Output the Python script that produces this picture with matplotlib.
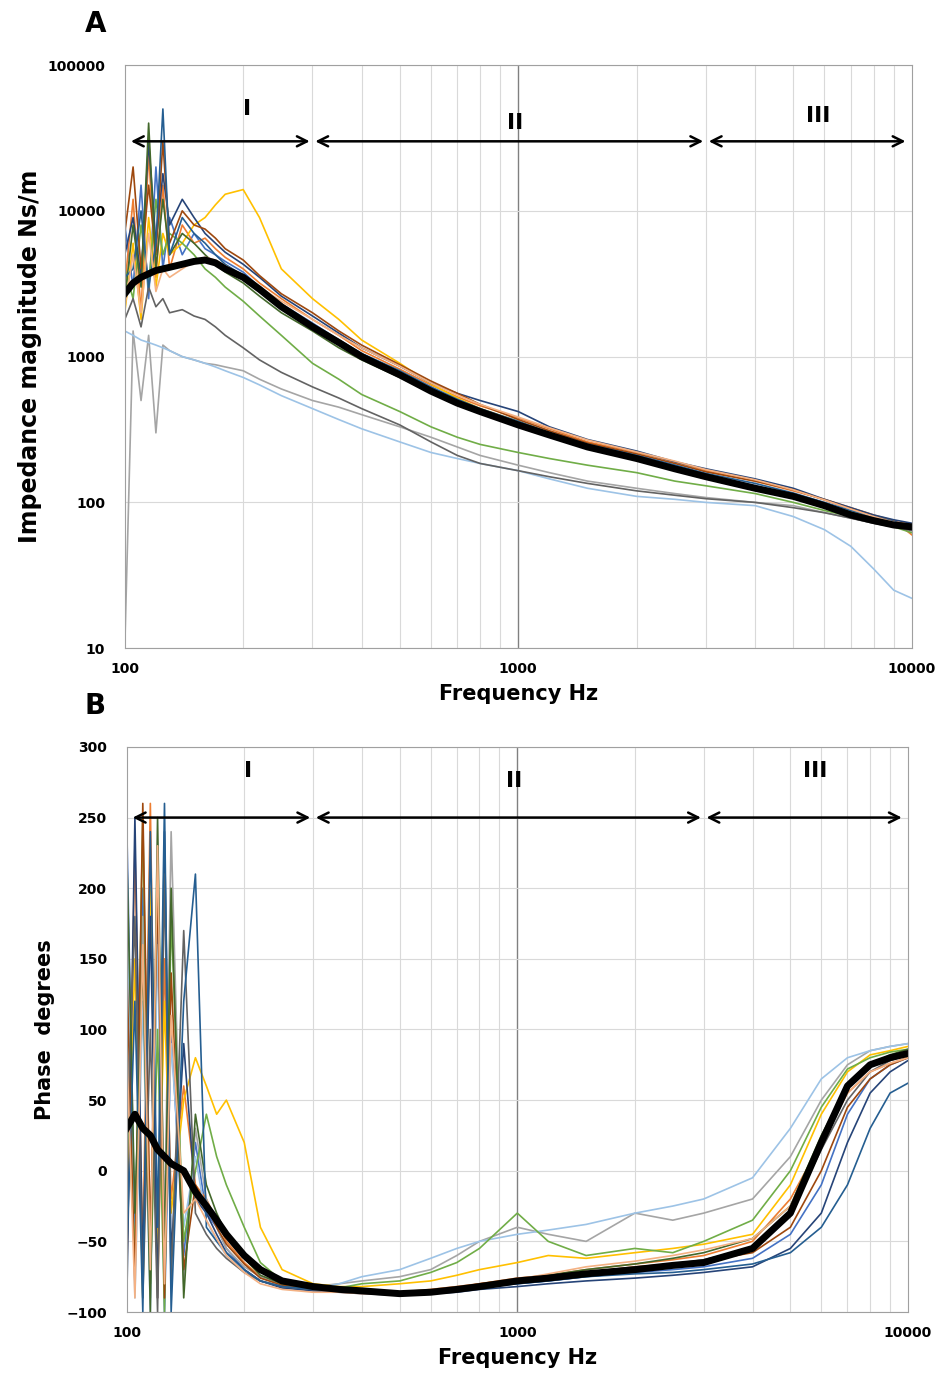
import matplotlib
matplotlib.use("Agg")
import matplotlib.pyplot as plt
from matplotlib.ticker import FixedLocator, NullFormatter

freq = [100,105,110,115,120,125,130,140,150,160,170,180,200,220,250,300,350,400,500,600,700,800,1000,1200,1500,2000,2500,3000,4000,5000,6000,7000,8000,9000,10000]

mag_mean = [2700,3200,3500,3700,3900,4000,4100,4300,4500,4600,4400,4000,3500,2900,2200,1600,1250,1000,750,580,480,420,340,290,240,200,170,150,125,110,95,82,75,70,68]
phase_mean = [30,40,30,25,15,10,5,0,-15,-25,-35,-45,-60,-70,-78,-82,-84,-85,-87,-86,-84,-82,-78,-76,-73,-70,-67,-65,-55,-30,20,60,75,80,83]

mag_series = [
 [8000,3000,15000,2500,20000,4000,9000,5000,7000,5500,5000,4500,3800,3000,2300,1700,1300,1050,780,600,500,430,350,300,250,210,180,155,130,112,97,85,78,72,70],
 [3000,12000,2000,25000,3500,15000,4000,8000,6000,6500,5500,4800,4000,3200,2500,1800,1400,1100,820,640,530,460,380,320,260,220,190,165,140,120,105,92,82,75,60],
 [10,1500,500,1400,300,1200,1100,1000,950,900,880,850,800,700,600,500,450,400,330,280,240,210,180,160,140,125,115,108,100,95,85,78,72,68,65],
 [2000,6000,1800,9000,3000,7000,5000,6000,8000,9000,11000,13000,14000,9000,4000,2500,1800,1300,900,650,520,440,360,300,245,205,175,150,125,108,94,83,76,70,66],
 [1500,1400,1300,1250,1200,1150,1100,1000,950,900,850,800,720,640,540,440,370,320,260,220,200,185,165,145,125,110,105,100,95,80,65,50,35,25,22],
 [4000,2500,8000,3000,12000,5000,7000,6000,5000,4000,3500,3000,2400,1900,1400,900,700,550,420,330,280,250,220,200,180,160,140,130,115,100,88,80,74,68,62],
 [5000,9000,3500,30000,6000,18000,8000,12000,9000,7000,6000,5200,4300,3500,2600,1900,1450,1150,860,660,560,500,420,330,270,225,190,170,145,125,105,92,82,76,72],
 [7000,20000,4000,15000,5000,30000,6000,10000,8000,7500,6500,5500,4600,3600,2700,2000,1500,1200,880,680,560,470,370,310,255,215,185,162,140,122,104,90,80,74,70],
 [1800,2500,1600,3000,2200,2500,2000,2100,1900,1800,1600,1400,1150,950,780,620,520,440,340,260,210,185,165,150,135,120,112,106,100,92,85,78,72,68,64],
 [2500,8000,3000,40000,4000,12000,5000,7000,6000,5000,4300,3800,3200,2600,2000,1500,1150,950,720,570,480,420,350,290,240,200,172,150,128,112,98,86,78,72,68],
 [3500,4000,10000,3000,6000,50000,5000,9000,7000,6000,5000,4300,3600,2900,2200,1650,1300,1050,800,620,510,440,360,300,250,210,180,158,135,116,100,88,80,74,68],
 [2200,5000,2000,7000,2800,4000,3500,4000,4500,4800,4600,4200,3600,3000,2400,1800,1400,1150,860,660,545,470,385,325,268,222,192,168,143,122,104,90,80,73,67],
]

phase_series = [
 [250,-50,200,-80,180,-100,100,-60,20,-30,-40,-55,-70,-78,-82,-84,-85,-86,-86,-85,-84,-82,-80,-78,-75,-72,-70,-68,-62,-45,-10,40,65,75,80],
 [-80,230,-60,260,-90,150,-20,60,-10,-20,-35,-50,-65,-75,-80,-83,-84,-85,-86,-84,-82,-80,-76,-74,-70,-66,-63,-60,-50,-20,20,55,70,76,80],
 [100,-70,180,-90,220,-40,240,-80,30,-20,-40,-55,-68,-75,-80,-82,-80,-78,-75,-70,-60,-50,-40,-45,-50,-30,-35,-30,-20,10,50,75,85,88,90],
 [-40,150,-90,200,-60,120,-30,50,80,60,40,50,20,-40,-70,-80,-82,-82,-80,-78,-74,-70,-65,-60,-62,-58,-55,-52,-45,-10,40,70,82,85,88],
 [200,-90,120,-100,160,-70,90,-40,10,-35,-50,-60,-72,-78,-82,-84,-80,-75,-70,-62,-55,-50,-45,-42,-38,-30,-25,-20,-5,30,65,80,85,88,90],
 [60,-60,250,-80,100,-100,180,-50,0,40,10,-10,-40,-65,-78,-82,-83,-80,-78,-72,-65,-55,-30,-50,-60,-55,-58,-50,-35,0,45,72,80,84,86],
 [-100,250,-70,180,-90,240,-60,90,-20,-30,-45,-58,-70,-78,-83,-85,-86,-87,-88,-87,-86,-84,-82,-80,-78,-76,-74,-72,-68,-55,-30,20,55,70,78],
 [150,-80,260,-50,200,-90,140,-70,-10,-25,-40,-52,-66,-76,-81,-84,-85,-86,-86,-85,-83,-80,-77,-75,-72,-68,-66,-64,-58,-40,0,45,65,75,80],
 [20,180,-90,100,-100,210,-80,170,-30,-45,-55,-62,-72,-78,-82,-84,-85,-86,-86,-85,-84,-82,-79,-76,-72,-69,-66,-63,-55,-30,15,50,70,78,82],
 [230,-30,150,-100,250,-60,200,-90,40,-10,-30,-45,-62,-74,-80,-83,-84,-85,-86,-85,-83,-81,-78,-74,-70,-66,-62,-58,-48,-25,25,60,75,82,86],
 [-60,120,-100,240,-40,260,-100,120,210,-40,-50,-58,-70,-78,-82,-84,-85,-86,-87,-86,-85,-83,-80,-78,-75,-73,-72,-70,-66,-58,-40,-10,30,55,62],
 [90,-90,160,-70,230,-80,110,-30,-20,-35,-48,-60,-72,-80,-84,-86,-86,-87,-87,-86,-84,-81,-77,-73,-68,-64,-60,-56,-48,-25,20,55,70,76,80],
]

colors = ['#4472C4','#ED7D31','#A5A5A5','#FFC000','#9DC3E6','#70AD47','#264478','#9E480E','#636363','#43682B','#255E91','#F4B183']

fig = plt.figure(figsize=(9.38, 13.85), dpi=100)
ax1 = fig.add_axes([0.133, 0.532, 0.839, 0.421])
ax2 = fig.add_axes([0.135, 0.0527, 0.833, 0.408])

minor = [m*10**e for e in (2, 3) for m in range(2, 10)]

def style(ax):
    ax.set_xscale('log')
    ax.set_xlim(100, 10000)
    ax.xaxis.set_major_locator(FixedLocator([100, 1000, 10000]))
    ax.xaxis.set_minor_locator(FixedLocator(minor))
    ax.xaxis.set_minor_formatter(NullFormatter())
    ax.set_xticklabels(['100', '1000', '10000'])
    ax.grid(True, which='minor', axis='x', color='#d9d9d9', lw=0.8)
    ax.grid(True, which='major', axis='y', color='#d9d9d9', lw=0.8)
    ax.axvline(1000, color='#808080', lw=1, zorder=0.5)
    ax.tick_params(which='both', length=0, labelsize=10)
    ax.tick_params(axis='x', pad=10)
    ax.tick_params(axis='y', pad=14)
    for t in ax.get_xticklabels() + ax.get_yticklabels():
        t.set_fontweight('bold')
    for s in ax.spines.values():
        s.set_color('#a0a0a0')
    ax.set_xlabel('Frequency Hz', fontsize=15, fontweight='bold', labelpad=6)

for s, c in zip(mag_series, colors):
    ax1.plot(freq, s, color=c, lw=1.2)
ax1.plot(freq, mag_mean, color='black', lw=5)
ax1.set_yscale('log')
ax1.set_ylim(10, 100000)
ax1.yaxis.set_major_locator(FixedLocator([10, 100, 1000, 10000, 100000]))
ax1.yaxis.set_minor_locator(FixedLocator([]))
ax1.yaxis.set_minor_formatter(NullFormatter())
ax1.set_yticklabels(['10', '100', '1000', '10000', '100000'])
style(ax1)
ax1.set_ylabel('Impedance magnitude Ns/m', fontsize=17, fontweight='bold', labelpad=4)

for s, c in zip(phase_series, colors):
    ax2.plot(freq, s, color=c, lw=1.2)
ax2.plot(freq, phase_mean, color='black', lw=5)
ax2.set_ylim(-100, 300)
ax2.set_yticks(range(-100, 301, 50))
style(ax2)
ax2.set_ylabel('Phase  degrees', fontsize=15, fontweight='bold', labelpad=8)

for ax, ya, yt in ((ax1, 30000, [50000, 40000, 45000]), (ax2, 250, [283, 276, 283])):
    for (a, b) in ((102, 300), (300, 3000), (3000, 9800)):
        ax.annotate('', xy=(b, ya), xytext=(a, ya),
                    arrowprops=dict(arrowstyle='<->', color='black', lw=1.8, mutation_scale=18))
    for lab, x, y in zip(['I', 'II', 'III'], [205, 980, 5800], yt):
        ax.text(x, y, lab, ha='center', va='center', fontsize=16, fontweight='bold')

fig.text(0.09, 0.983, 'A', fontsize=20, fontweight='bold', ha='left', va='center')
fig.text(0.09, 0.49, 'B', fontsize=20, fontweight='bold', ha='left', va='center')

fig.savefig('out.png', dpi=100)
